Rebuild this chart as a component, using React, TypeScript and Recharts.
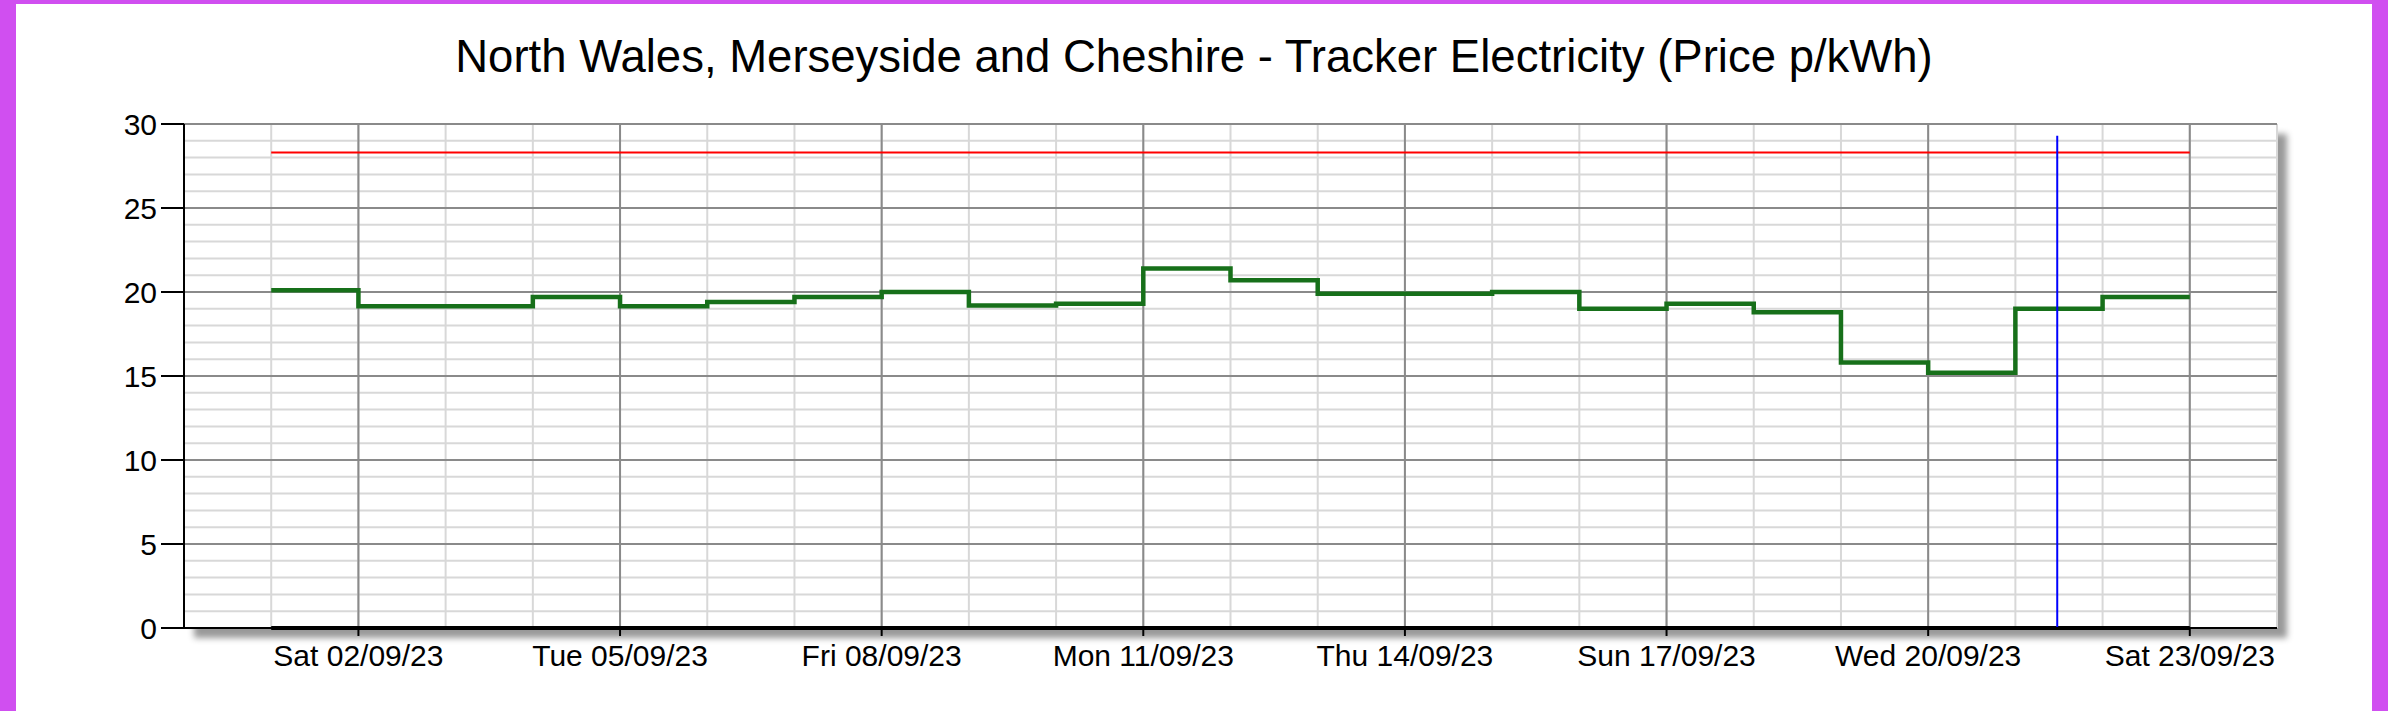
import { LineChart, Line, XAxis, YAxis, CartesianGrid, ReferenceLine } from 'recharts'

// day of month (September 2023); 0 = Thu 31/08
const days = [1, 2, 3, 4, 5, 6, 7, 8, 9, 10, 11, 12, 13, 14, 15, 16, 17, 18, 19, 20, 21, 22, 23]
const prices = [
  20.1, 19.15, 19.15, 19.7, 19.15, 19.4, 19.7, 20.0, 19.2, 19.3, 21.4, 20.7, 19.9, 19.9, 20.0, 19.0,
  19.3, 18.8, 15.8, 15.2, 19.0, 19.7, 19.7,
]
const capPrice = 28.3
const baseline = 0
const nowDay = 21.48
const nowTop = 29.3

const xTicks = [2, 5, 8, 11, 14, 17, 20, 23]
const xTickLabels = [
  'Sat 02/09/23',
  'Tue 05/09/23',
  'Fri 08/09/23',
  'Mon 11/09/23',
  'Thu 14/09/23',
  'Sun 17/09/23',
  'Wed 20/09/23',
  'Sat 23/09/23',
]
const yTicks = [0, 5, 10, 15, 20, 25, 30]
const xMinor = Array.from({ length: 25 }, (_, i) => i)
const yMinor = Array.from({ length: 31 }, (_, i) => i)

const FONT = '"Liberation Sans", Arial, sans-serif'

const chartData = days.map((day, i) => ({
  day,
  price: prices[i],
  cap: capPrice,
  zero: baseline,
}))

function formatTick(v: number) {
  const i = xTicks.indexOf(v)
  return i >= 0 ? xTickLabels[i] : ''
}

export default function App() {
  return (
    <div
      style={{
        position: 'absolute',
        left: 0,
        top: 0,
        width: 2388,
        height: 711,
        background: '#d04ff0',
        fontFamily: FONT,
      }}
    >
      <style>{`.shadow-bg .recharts-cartesian-grid-bg { filter: drop-shadow(10px 10px 3px rgba(0,0,0,0.4)); }`}</style>
      <div
        className="shadow-bg"
        style={{ position: 'absolute', left: 16, top: 4, width: 2356, height: 707, background: '#fff' }}
      >
        <div
          style={{
            position: 'absolute',
            top: 30,
            left: 0,
            width: '100%',
            textAlign: 'center',
            fontSize: 45.5,
            lineHeight: 1,
            color: '#000',
          }}
        >
          North Wales, Merseyside and Cheshire - Tracker Electricity (Price p/kWh)
        </div>
        <LineChart
          width={2356}
          height={707}
          data={chartData}
          margin={{ top: 120, right: 95, bottom: 23, left: 0 }}
        >
          <CartesianGrid
            fill="#fff"
            fillOpacity={1}
            stroke="#d8d8d8"
            strokeWidth={2}
            horizontalValues={yMinor}
            verticalValues={xMinor}
          />
          <CartesianGrid
            stroke="#8a8a8a"
            strokeWidth={2}
            horizontalValues={yTicks}
            verticalValues={xTicks}
          />
          <XAxis
            type="number"
            dataKey="day"
            domain={[0, 24]}
            ticks={xTicks}
            interval={0}
            tickFormatter={formatTick}
            tick={{ fill: '#000', fontSize: 30, fontFamily: FONT }}
            axisLine={{ stroke: '#000', strokeWidth: 2 }}
            tickLine={{ stroke: '#000', strokeWidth: 2 }}
            tickSize={8}
            tickMargin={9}
            height={60}
          />
          <YAxis
            type="number"
            domain={[0, 30]}
            ticks={yTicks}
            interval={0}
            tick={{ fill: '#000', fontSize: 30, fontFamily: FONT }}
            axisLine={{ stroke: '#000', strokeWidth: 2 }}
            tickLine={{ stroke: '#000', strokeWidth: 2 }}
            tickSize={23}
            tickMargin={4}
            width={168}
          />
          <Line
            type="linear"
            dataKey="cap"
            stroke="#ff0000"
            strokeWidth={2}
            dot={false}
            isAnimationActive={false}
          />
          <Line
            type="stepAfter"
            dataKey="zero"
            stroke="#000"
            strokeWidth={4}
            dot={false}
            isAnimationActive={false}
          />
          <Line
            type="stepAfter"
            dataKey="price"
            stroke="#17701a"
            strokeWidth={4.5}
            dot={false}
            isAnimationActive={false}
          />
          <ReferenceLine
            segment={[
              { x: nowDay, y: 0 },
              { x: nowDay, y: nowTop },
            ]}
            stroke="#0000ff"
            strokeWidth={2}
          />
        </LineChart>
      </div>
    </div>
  )
}
